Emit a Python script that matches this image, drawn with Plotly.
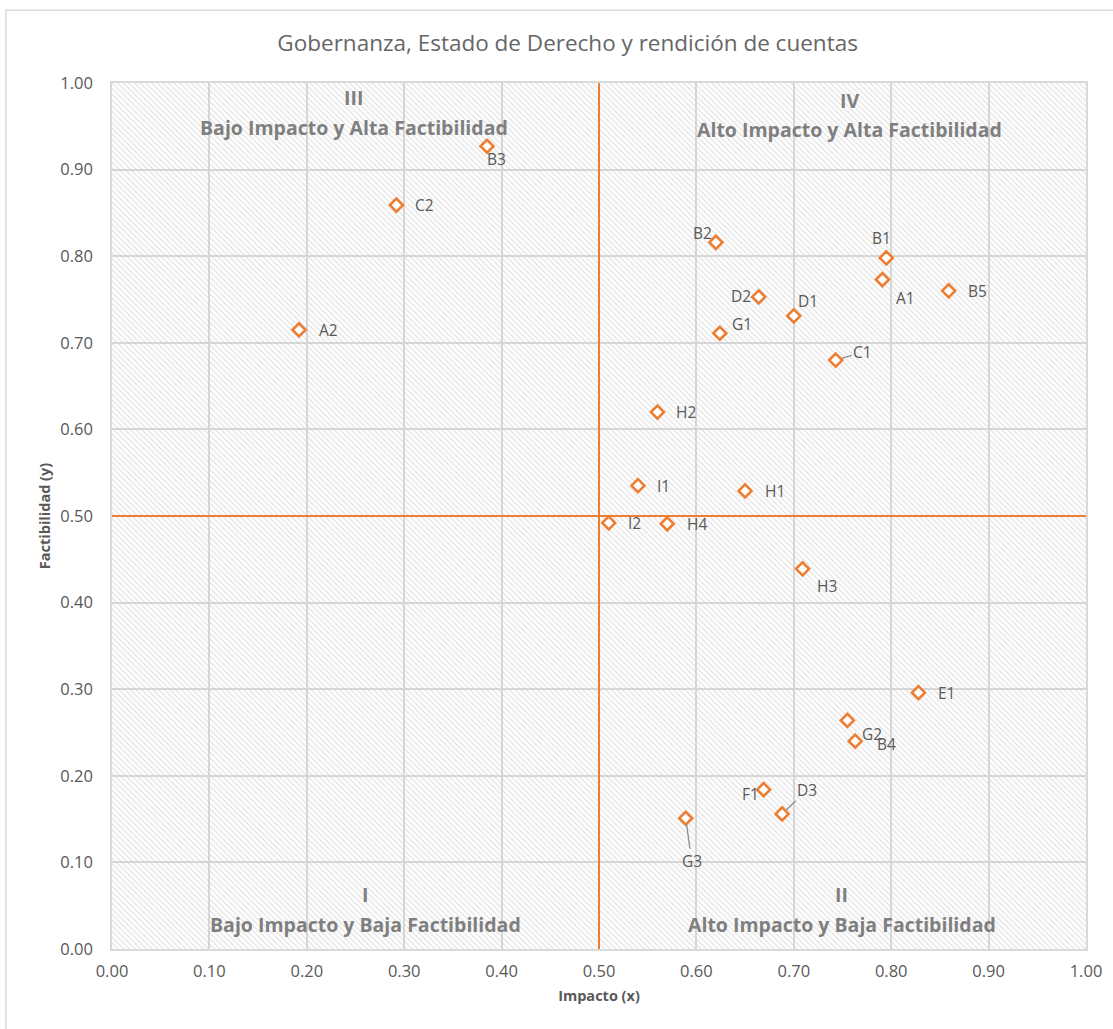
import plotly.graph_objects as go

# Initiative codes with their impact (x) and feasibility (y) scores
codes = ["B3", "C2", "A2", "B2", "B1", "A1", "B5", "D2", "D1", "G1", "C1", "H2",
         "I1", "H1", "I2", "H4", "H3", "E1", "G2", "B4", "F1", "D3", "G3"]
impacto = [0.385, 0.292, 0.192, 0.620, 0.795, 0.791, 0.859, 0.664, 0.700, 0.624, 0.743, 0.560,
           0.540, 0.650, 0.510, 0.570, 0.709, 0.828, 0.755, 0.763, 0.669, 0.688, 0.589]
factibilidad = [0.927, 0.859, 0.715, 0.816, 0.798, 0.773, 0.760, 0.753, 0.731, 0.711, 0.680, 0.620,
                0.535, 0.529, 0.492, 0.491, 0.439, 0.296, 0.264, 0.240, 0.184, 0.156, 0.151]

# Axis limits and the quadrant split
axis_min, axis_max = 0.0, 1.0
x_cut, y_cut = 0.5, 0.5

# Quadrant captions
quad_numerals = ["I", "II", "III", "IV"]
quad_texts = ["Bajo Impacto y Baja Factibilidad", "Alto Impacto y Baja Factibilidad",
              "Bajo Impacto y Alta Factibilidad", "Alto Impacto y Alta Factibilidad"]

# Label placement (pixel offsets from the point, positive dy = up)
label_offsets = {
    "B3": (10, -13), "C2": (28, 0), "A2": (29, 0), "B2": (-13, 9), "B1": (-5, 20),
    "A1": (23, -18), "B5": (29, 0), "D2": (-18, 1), "D1": (14, 15), "G1": (22, 9),
    "C1": (27, 8), "H2": (29, 0), "I1": (26, 0), "H1": (30, 0), "I2": (26, 0),
    "H4": (30, 0), "H3": (24, -17), "E1": (28, 0), "G2": (25, -14), "B4": (31, -3),
    "F1": (-13, -4), "D3": (25, 24), "G3": (6, -43),
}
leader_lines = {"C1", "D3", "G3"}

FONT = "Open Sans"
GREY = "#595959"
LABEL_GREY = "#7f7f7f"
ORANGE = "#ED7D31"
GRID = "#d9d9d9"

fig = go.Figure()

# Diagonally hatched plot background
fig.add_trace(go.Scatter(
    x=[axis_min, axis_max, axis_max, axis_min, axis_min],
    y=[axis_min, axis_min, axis_max, axis_max, axis_min],
    mode="lines", line=dict(width=0), fill="toself",
    fillcolor="rgba(0,0,0,0)",
    fillpattern=dict(shape="\\", fgcolor="#c4c4c4", bgcolor="rgba(0,0,0,0)",
                     size=4, solidity=0.3),
    hoverinfo="skip", showlegend=False,
))

# Quadrant dividing lines
fig.add_trace(go.Scatter(x=[x_cut, x_cut], y=[axis_min, axis_max], mode="lines",
                         line=dict(color=ORANGE, width=2), hoverinfo="skip", showlegend=False))
fig.add_trace(go.Scatter(x=[axis_min, axis_max], y=[y_cut, y_cut], mode="lines",
                         line=dict(color=ORANGE, width=2), hoverinfo="skip", showlegend=False))

# Points
fig.add_trace(go.Scatter(
    x=impacto, y=factibilidad, mode="markers", text=codes,
    marker=dict(symbol="diamond", size=10, color="white",
                line=dict(color=ORANGE, width=2.6)),
    showlegend=False,
))

annotations = []
for code, xv, yv in zip(codes, impacto, factibilidad):
    dx, dy = label_offsets[code]
    if code in leader_lines:
        annotations.append(dict(
            x=xv, y=yv, xref="x", yref="y", text=code, showarrow=True,
            ax=dx, ay=-dy, arrowhead=0, arrowwidth=1.3, arrowcolor="#8c8c8c",
            standoff=6, font=dict(family=FONT, size=15.5, color=GREY),
        ))
    else:
        annotations.append(dict(
            x=xv, y=yv, xref="x", yref="y", text=code, showarrow=False,
            xshift=dx, yshift=dy, xanchor="center", yanchor="middle",
            font=dict(family=FONT, size=15.5, color=GREY),
        ))

# Quadrant captions: numeral above descriptive text
quad_pos = [(0.26, 0.0635, 0.028), (0.749, 0.0635, 0.028),
            (0.248, 0.983, 0.949), (0.757, 0.980, 0.946)]
for num, txt, (qx, qy_num, qy_txt) in zip(quad_numerals, quad_texts, quad_pos):
    annotations.append(dict(x=qx, y=qy_num, xref="x", yref="y", text=num, showarrow=False,
                            font=dict(family=FONT, size=19.5, color=LABEL_GREY, weight="bold")))
    annotations.append(dict(x=qx, y=qy_txt, xref="x", yref="y", text=txt, showarrow=False,
                            font=dict(family=FONT, size=19.5, color=LABEL_GREY, weight="bold")))

tick_vals = [round(i * 0.1, 1) for i in range(11)]

axis_common = dict(
    range=[axis_min, axis_max], tickvals=tick_vals, tickformat=".2f",
    showgrid=True, gridcolor=GRID, gridwidth=1.6,
    showline=True, linecolor=GRID, linewidth=1.5, mirror=True,
    zeroline=False, ticks="", tickfont=dict(family=FONT, size=16.5, color=GREY),
    fixedrange=True,
)

fig.update_layout(
    width=1113, height=1029,
    margin=dict(l=112, r=27, t=83, b=80),
    paper_bgcolor="white", plot_bgcolor="white",
    title=dict(text="Gobernanza, Estado de Derecho y rendición de cuentas",
               x=0.51, xanchor="center", y=0.958, yanchor="middle",
               font=dict(family=FONT, size=22.5, color="#666666", weight=500)),
    xaxis=dict(**axis_common, ticklabelstandoff=6,
               title=dict(text="Impacto (x)", standoff=10,
                          font=dict(family=FONT, size=14.5, color=GREY, weight="bold"))),
    yaxis=dict(**axis_common, ticklabelstandoff=14,
               title=dict(text="Factibilidad (y)", standoff=6,
                          font=dict(family=FONT, size=14.5, color=GREY, weight="bold"))),
    annotations=annotations,
    shapes=[dict(type="rect", xref="paper", yref="paper",
                 x0=-0.109, x1=1.05, y0=-0.12, y1=1.084,
                 line=dict(color="#d9d9d9", width=1.5), layer="below")],
)

fig.write_html("out.html")
